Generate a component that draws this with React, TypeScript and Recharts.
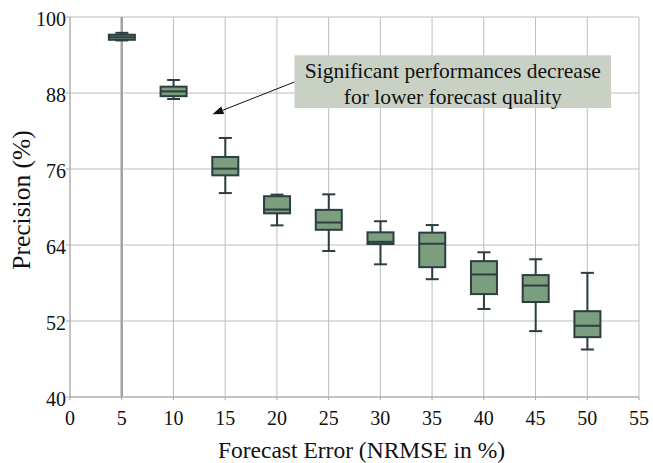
import {
  Bar,
  CartesianGrid,
  ComposedChart,
  ReferenceArea,
  ReferenceLine,
  XAxis,
  YAxis,
} from "recharts";

// forecast error levels (NRMSE in %)
const forecastError = [5, 10, 15, 20, 25, 30, 35, 40, 45, 50];

// precision (%) box statistics per error level
const whiskerLow = [96.3, 87.05, 72.2, 67.1, 63.05, 60.95, 58.6, 53.9, 50.4, 47.5];
const quartile1 = [96.4, 87.5, 75.0, 69.0, 66.4, 64.15, 60.5, 56.25, 55.0, 49.45];
const medians = [96.8, 88.25, 76.05, 69.6, 67.55, 64.5, 64.2, 59.35, 57.6, 51.25];
const quartile3 = [97.2, 89.0, 77.9, 71.7, 69.55, 66.0, 65.95, 61.45, 59.25, 53.55];
const whiskerHigh = [97.5, 90.05, 80.9, 71.95, 72.0, 67.75, 67.15, 62.85, 61.75, 59.6];

const xTicks = [0, 5, 10, 15, 20, 25, 30, 35, 40, 45, 50, 55];
const yTicks = [40, 52, 64, 76, 88, 100];

const noteLines = ["Significant performances decrease", "for lower forecast quality"];

const FONT = "Liberation Serif";
const BOX_FILL = "#7a9e7e";
const BOX_STROKE = "#2d3d41";
const GRID = "#bdbdbd";

const data = forecastError.map((x, i) => ({
  x,
  low: whiskerLow[i],
  q1: quartile1[i],
  median: medians[i],
  q3: quartile3[i],
  high: whiskerHigh[i],
}));

// bar spans low..high; the rest is placed with the same pixels-per-unit
const BoxShape = (props: any) => {
  const { x, y, width, height, payload } = props;
  const top = Math.min(y, y + height);
  const h = Math.abs(height);
  const k = h / (payload.high - payload.low);
  const toY = (v: number) => top + (payload.high - v) * k;
  const cx = x + width / 2;
  const cap = width * 0.25;
  return (
    <g stroke={BOX_STROKE} strokeWidth={2}>
      <line x1={cx} x2={cx} y1={toY(payload.high)} y2={toY(payload.low)} />
      <line x1={cx - cap} x2={cx + cap} y1={toY(payload.high)} y2={toY(payload.high)} />
      <line x1={cx - cap} x2={cx + cap} y1={toY(payload.low)} y2={toY(payload.low)} />
      <rect
        x={x}
        y={toY(payload.q3)}
        width={width}
        height={toY(payload.q1) - toY(payload.q3)}
        fill={BOX_FILL}
      />
      <line x1={x} x2={x + width} y1={toY(payload.median)} y2={toY(payload.median)} />
    </g>
  );
};

const GridLine = (props: any) => {
  const { x1, x2, y1, y2, index } = props;
  return (
    <line
      key={`v-${index}`}
      x1={x1}
      x2={x2}
      y1={y1}
      y2={y2}
      stroke={index === 1 ? "#a2a2a2" : GRID}
      strokeWidth={index === 1 ? 2.5 : 1}
    />
  );
};

const NoteLabel = (props: any) => {
  const { viewBox } = props;
  const cx = viewBox.x + viewBox.width / 2;
  return (
    <text fontFamily={FONT} fontSize={21.5} fill="#111" textAnchor="middle">
      <tspan x={cx} y={viewBox.y + 22.5}>
        {noteLines[0]}
      </tspan>
      <tspan x={cx} y={viewBox.y + 48.5}>
        {noteLines[1]}
      </tspan>
    </text>
  );
};

const Arrow = (props: any) => {
  const { x1, y1, x2, y2 } = props;
  const ang = Math.atan2(y2 - y1, x2 - x1);
  const len = 11;
  const half = 4;
  const bx = x2 - len * Math.cos(ang);
  const by = y2 - len * Math.sin(ang);
  const px = -Math.sin(ang) * half;
  const py = Math.cos(ang) * half;
  return (
    <g>
      <line x1={x1} y1={y1} x2={bx} y2={by} stroke="#111" strokeWidth={1} />
      <polygon
        points={`${x2},${y2} ${bx + px},${by + py} ${bx - px},${by - py}`}
        fill="#111"
      />
    </g>
  );
};

const YLabel = (props: any) => {
  const { viewBox } = props;
  const x = viewBox.x + 13;
  const y = 200;
  return (
    <text
      x={x}
      y={y}
      transform={`rotate(-90 ${x} ${y})`}
      textAnchor="middle"
      dominantBaseline="central"
      fontFamily={FONT}
      fontSize={25.5}
      fill="#111"
    >
      Precision (%)
    </text>
  );
};

const XLabel = (props: any) => {
  const { viewBox } = props;
  return (
    <text
      x={viewBox.x + viewBox.width / 2 + 7}
      y={viewBox.y + 61}
      textAnchor="middle"
      fontFamily={FONT}
      fontSize={23.5}
      fill="#111"
    >
      Forecast Error (NRMSE in %)
    </text>
  );
};

const tickStyle = { fontFamily: FONT, fontSize: 20, fill: "#111" };

export default function App() {
  return (
    <div style={{ position: "absolute", left: 0, top: 0, fontFamily: FONT }}>
      <ComposedChart
        width={653}
        height={463}
        data={data}
        margin={{ top: 17, right: 14, bottom: 0, left: 8 }}
        style={{ fontFamily: FONT }}
      >
        <CartesianGrid stroke={GRID} vertical={GridLine} />
        <XAxis
          type="number"
          dataKey="x"
          domain={[0, 55]}
          ticks={xTicks}
          interval={0}
          height={66}
          tick={tickStyle}
          tickSize={3}
          tickMargin={11}
          stroke="#a8a8a8"
          label={<XLabel />}
        />
        <YAxis
          type="number"
          domain={[40, 100]}
          ticks={yTicks}
          interval={0}
          width={62}
          tick={{ ...tickStyle, dy: 2 }}
          tickSize={4}
          tickMargin={0}
          stroke="#a8a8a8"
          label={<YLabel />}
        />
        <ReferenceArea
          x1={21.7}
          x2={52.3}
          y1={85.63}
          y2={93.95}
          fill="#c9d1c5"
          fillOpacity={1}
          stroke="none"
          label={<NoteLabel />}
        />
        <ReferenceLine
          segment={[
            { x: 21.7, y: 89.74 },
            { x: 13.77, y: 84.64 },
          ]}
          shape={<Arrow />}
        />
        <Bar
          dataKey={(d: any) => [d.low, d.high]}
          barSize={26}
          shape={<BoxShape />}
          isAnimationActive={false}
        />
      </ComposedChart>
    </div>
  );
}
